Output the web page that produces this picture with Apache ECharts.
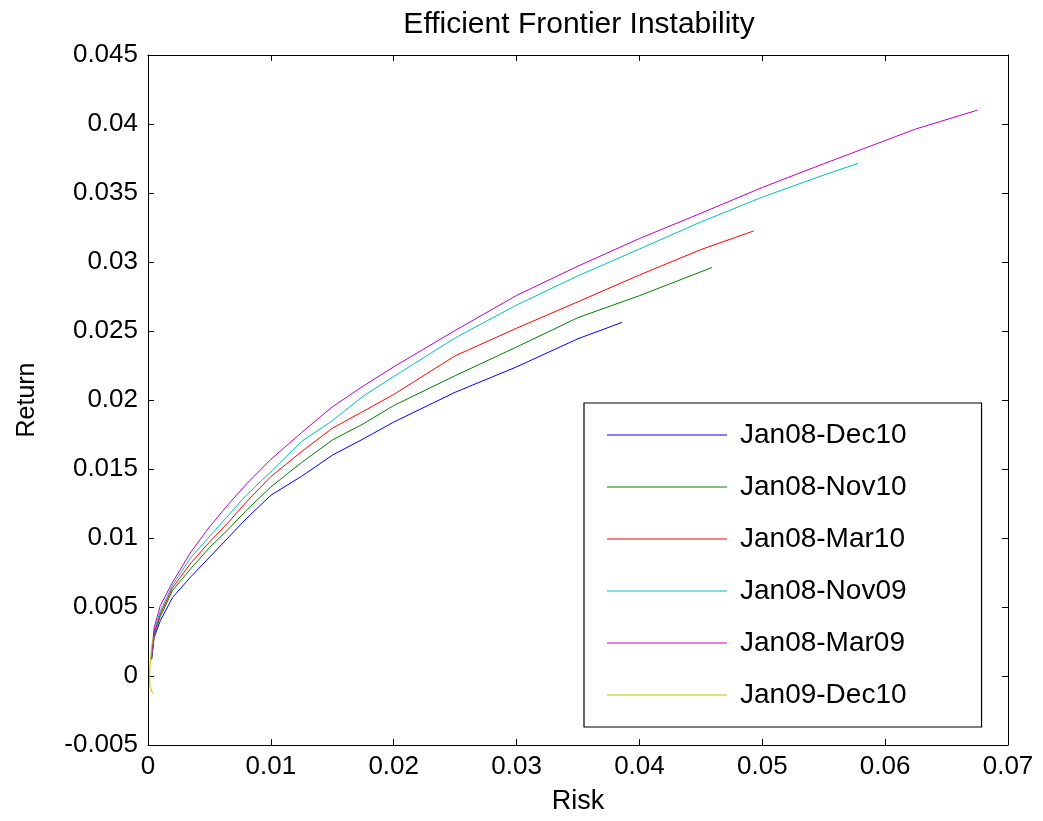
<!DOCTYPE html>
<html>
<head>
<meta charset="utf-8">
<script src="https://cdn.jsdelivr.net/npm/echarts@6/dist/echarts.min.js"></script>
<style>
  html, body { margin: 0; padding: 0; background: #fff; }
  #chart { width: 1043px; height: 821px; }
</style>
</head>
<body>
<div id="chart"></div>
<script>
// series names (legend order)
const seriesNames = ['Jan08-Dec10', 'Jan08-Nov10', 'Jan08-Mar10', 'Jan08-Nov09', 'Jan08-Mar09', 'Jan09-Dec10'];
const seriesColors = ['#0000ff', '#008000', '#ff0000', '#00bfbf', '#bf00bf', '#bfbf00'];

// [risk, return]
const jan08Dec10 = [[0.0003, 0.0012], [0.0005, 0.0028], [0.001, 0.0040], [0.002, 0.0057], [0.0035, 0.0072], [0.005, 0.0086],
  [0.0065, 0.0100], [0.008, 0.0114], [0.010, 0.0131], [0.0125, 0.01447], [0.015, 0.0160], [0.0175, 0.01717], [0.020, 0.0184],
  [0.025, 0.02056], [0.030, 0.0224], [0.035, 0.02444], [0.0386, 0.02563]];
const jan08Nov10 = [[0.0003, 0.0013], [0.0005, 0.0030], [0.001, 0.0043], [0.002, 0.0062], [0.0035, 0.0078], [0.005, 0.0093],
  [0.0065, 0.0106], [0.008, 0.0120], [0.010, 0.0137], [0.0125, 0.01547], [0.015, 0.0171], [0.0175, 0.01826], [0.020, 0.0196],
  [0.025, 0.02176], [0.030, 0.02384], [0.035, 0.02597], [0.040, 0.02756], [0.0459, 0.0296]];
const jan08Mar10 = [[0.0003, 0.0014], [0.0005, 0.0031], [0.001, 0.0045], [0.002, 0.0064], [0.0035, 0.0082], [0.005, 0.0097],
  [0.0065, 0.0111], [0.008, 0.0126], [0.010, 0.01445], [0.0125, 0.01626], [0.015, 0.01795], [0.0175, 0.01917], [0.020, 0.0204],
  [0.025, 0.0232], [0.030, 0.0252], [0.035, 0.02712], [0.040, 0.02906], [0.045, 0.0309], [0.0493, 0.03225]];
const jan08Nov09 = [[0.0003, 0.0015], [0.0005, 0.0033], [0.001, 0.0047], [0.002, 0.0066], [0.0035, 0.0086], [0.005, 0.0101],
  [0.0065, 0.0116], [0.008, 0.0131], [0.010, 0.0148], [0.0125, 0.0170], [0.015, 0.0185], [0.0175, 0.02027], [0.020, 0.0217],
  [0.025, 0.0245], [0.030, 0.02688], [0.035, 0.0290], [0.040, 0.03094], [0.045, 0.0329], [0.050, 0.0347], [0.055, 0.0363],
  [0.0578, 0.03715]];
const jan08Mar09 = [[0.0003, 0.0016], [0.0005, 0.0035], [0.001, 0.0051], [0.002, 0.0068], [0.0035, 0.0090], [0.005, 0.0108],
  [0.0065, 0.0124], [0.008, 0.0139], [0.010, 0.0157], [0.0125, 0.01764], [0.015, 0.0195], [0.0175, 0.0210], [0.020, 0.0224],
  [0.025, 0.02504], [0.030, 0.02758], [0.035, 0.0297], [0.040, 0.0317], [0.045, 0.03353], [0.050, 0.0354], [0.055, 0.03712],
  [0.060, 0.0388], [0.0625, 0.03964], [0.0675, 0.0410]];
const jan09Dec10 = [[0.00038, -0.00125], [0.00016, -0.00077], [0.00014, 0.0], [0.00016, 0.00067], [0.0003, 0.0021], [0.00043, 0.00285]];

const allData = [jan08Dec10, jan08Nov10, jan08Mar10, jan08Nov09, jan08Mar09, jan09Dec10];

// axis ticks
const xTicks = [0, 0.01, 0.02, 0.03, 0.04, 0.05, 0.06, 0.07];
const yTicks = [-0.005, 0, 0.005, 0.01, 0.015, 0.02, 0.025, 0.03, 0.035, 0.04, 0.045];

const font = 'Liberation Sans, Arial, sans-serif';
const fmt = v => String(Number(v.toFixed(4)));

const chart = echarts.init(document.getElementById('chart'), null, { renderer: 'canvas' });

const frameAxis = {
  axisLine: { show: true, onZero: false, lineStyle: { color: '#000', width: 1 } },
  axisTick: { show: true, inside: true, length: 6, lineStyle: { color: '#000', width: 1 } },
  splitLine: { show: false }
};

const option = {
  backgroundColor: '#fff',
  animation: false,
  title: {
    text: 'Efficient Frontier Instability',
    left: 574, top: 5, textAlign: 'center',
    textStyle: { fontFamily: font, fontSize: 30, fontWeight: 'normal', color: '#000' }
  },
  grid: { left: 148, top: 55, right: 35, bottom: 76 },
  legend: {
    orient: 'vertical',
    left: 584, top: 403,
    data: seriesNames,
    icon: 'rect',
    itemWidth: 120, itemHeight: 1,
    itemGap: 24,
    padding: [18, 75, 18, 23],
    borderColor: '#000', borderWidth: 1.2, borderRadius: 0,
    backgroundColor: '#fff',
    textStyle: { fontFamily: font, fontSize: 28, color: '#000', padding: [0, 0, 0, 8] }
  },
  xAxis: [
    Object.assign({
      type: 'value', min: xTicks[0], max: xTicks[xTicks.length - 1], interval: 0.01,
      name: 'Risk', nameLocation: 'middle', nameGap: 43,
      nameTextStyle: { fontFamily: font, fontSize: 27, color: '#000' },
      axisLabel: { fontFamily: font, fontSize: 26, color: '#000', margin: 9, formatter: fmt }
    }, frameAxis),
    Object.assign({
      type: 'value', position: 'top', min: xTicks[0], max: xTicks[xTicks.length - 1], interval: 0.01,
      axisLabel: { show: false }
    }, frameAxis)
  ],
  yAxis: [
    Object.assign({
      type: 'value', min: yTicks[0], max: yTicks[yTicks.length - 1], interval: 0.005,
      name: 'Return', nameLocation: 'middle', nameGap: 108,
      nameTextStyle: { fontFamily: font, fontSize: 25, color: '#000' },
      axisLabel: { fontFamily: font, fontSize: 26, color: '#000', margin: 10, formatter: fmt }
    }, frameAxis),
    Object.assign({
      type: 'value', position: 'right', min: yTicks[0], max: yTicks[yTicks.length - 1], interval: 0.005,
      axisLabel: { show: false }
    }, frameAxis)
  ],
  series: seriesNames.map((name, i) => ({
    name: name,
    type: 'line',
    data: allData[i],
    xAxisIndex: 0, yAxisIndex: 0,
    showSymbol: false,
    symbol: 'none',
    smooth: false,
    color: seriesColors[i],
    lineStyle: { width: 1, color: seriesColors[i] }
  }))
};

chart.setOption(option);
</script>
</body>
</html>
